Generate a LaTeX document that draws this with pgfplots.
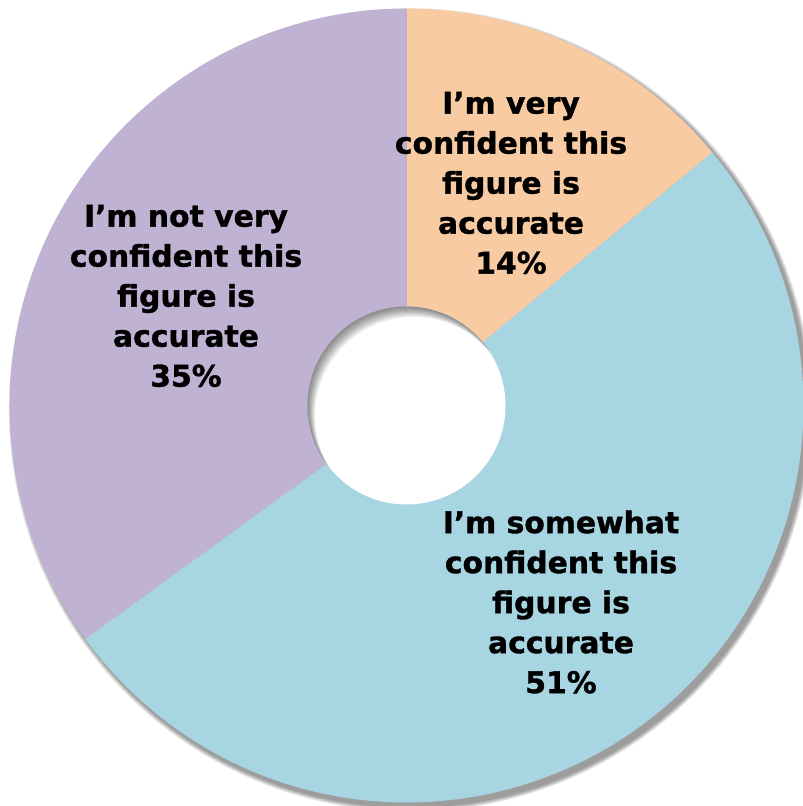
\documentclass[border=0pt]{standalone}
\usepackage{pgfplots}
\pgfplotsset{compat=1.18}
\usepackage{pgfplotstable}
\usepackage{fontspec}
\setmainfont{DejaVu Sans}[BoldFeatures={FakeBold=1.2}]
\usetikzlibrary{calc}
\definecolor{cOr}{HTML}{F8CBA2}
\definecolor{cBl}{HTML}{A8D5E2}
\definecolor{cPu}{HTML}{BFB2D3}

\pgfplotstableread{
value
14
51
35
}\pietable

\begin{document}
\begin{tikzpicture}
\pgfplotstablegetelem{0}{value}\of\pietable \let\vA\pgfplotsretval
\pgfplotstablegetelem{1}{value}\of\pietable \let\vB\pgfplotsretval
\pgfplotstablegetelem{2}{value}\of\pietable \let\vC\pgfplotsretval
\pgfmathsetmacro\aS{90}
\pgfmathsetmacro\aA{90-3.6*\vA}
\pgfmathsetmacro\aB{\aA-3.6*\vB}
\pgfmathsetmacro\aC{\aB-3.6*\vC}
\begin{axis}[
  x=1pt, y=1pt,
  xmin=0, xmax=803, ymin=0, ymax=806,
  hide axis, clip=false,
  anchor=origin, at={(0,0)},
]
\path (axis cs:406.5,400.5) coordinate (C);
% outer shadow
\pgfplotsinvokeforeach{1,...,8}{
  \fill[black, opacity=0.06] ($(C)+(4,-4.5)$) circle[radius={397+0.6*(9-#1)}];
}
% wedges
\fill[cOr] (C) -- ++(\aS:397) arc[start angle=\aS, end angle=\aA, radius=397] -- cycle;
\fill[cBl] (C) -- ++(\aA:397) arc[start angle=\aA, end angle=\aB, radius=397] -- cycle;
\fill[cPu] (C) -- ++(\aB:397) arc[start angle=\aB, end angle=\aC, radius=397] -- cycle;
% hole
\fill[white] (C) circle[radius=99];
\begin{scope}
  \clip (C) circle[radius=99];
  \pgfplotsinvokeforeach{1,...,10}{
    \fill[black, opacity=0.055, even odd rule] (C) circle[radius=140] ($(C)+({0.75*#1},{-1.05*#1})$) circle[radius=99];
  }
\end{scope}
% labels
\node[align=center, font=\fontsize{29.8}{40}\selectfont\bfseries] at (axis cs:511,623)
  {I’m very\\confident this\\figure is\\accurate\\\vA\%};
\node[align=center, font=\fontsize{29.8}{40}\selectfont\bfseries] at (axis cs:561,204)
  {I’m somewhat\\confident this\\figure is\\accurate\\\vB\%};
\node[align=center, font=\fontsize{29.8}{40}\selectfont\bfseries] at (axis cs:186,510)
  {I’m not very\\confident this\\figure is\\accurate\\\vC\%};
\end{axis}
\pgfresetboundingbox
\path (0,0) rectangle (803pt,806pt);
\end{tikzpicture}
\end{document}
